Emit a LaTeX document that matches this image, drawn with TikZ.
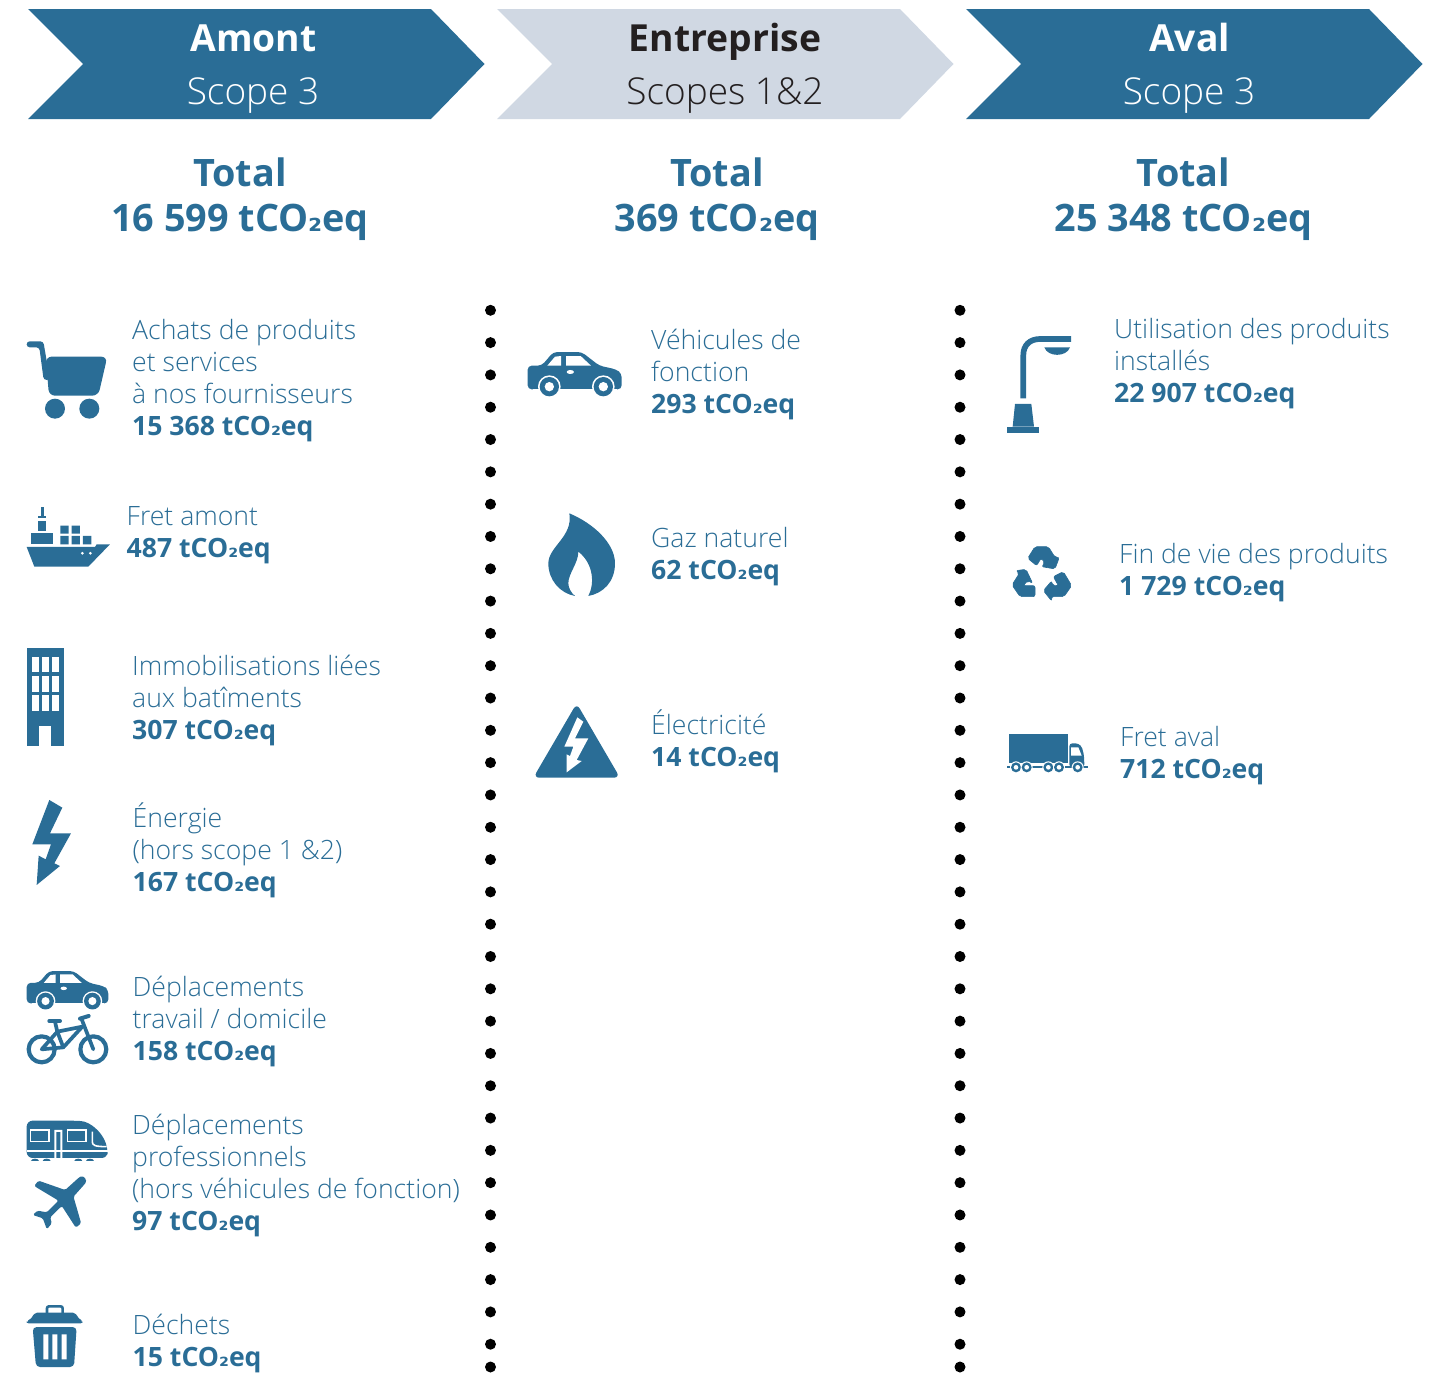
\documentclass[tikz,border=0pt]{standalone}
\usepackage{fontspec}
\setmainfont{Open Sans}
\newfontfamily\lightf{Open Sans Light}
\newfontfamily\boldf{Open Sans Bold}
\newfontfamily\subf{DejaVu Sans Bold}[Scale=0.85]
\definecolor{teal}{HTML}{2A6D96}
\definecolor{pale}{HTML}{D0D8E3}
\definecolor{ink}{HTML}{231F20}
\tikzset{
  zoomed/.style n args={3}{shift={(#1,#2)},x=#3pt,y=-#3pt},
  chev/.style={fill=teal,draw=none},
  icon/.style={fill=teal,draw=none},
  hole/.style={fill=white,draw=none},
  tube/.style={draw=teal,line cap=round,line join=round},
  blocktext/.style={anchor=base west,inner sep=0pt,align=left,text=teal,font=\lightf\fontsize{26.6}{32}\selectfont},
  headbold/.style={anchor=base,inner sep=0pt,font=\boldf\fontsize{37.3}{40}\selectfont},
  headlight/.style={anchor=base,inner sep=0pt,font=\lightf\fontsize{37}{40}\selectfont},
  totaltext/.style={anchor=base,inner sep=0pt,align=center,text=teal,font=\boldf\fontsize{37.8}{45}\selectfont},
  dotmark/.style={circle,fill=black,minimum size=11pt,inner sep=0pt},
}
\newcommand{\ctwo}{tCO{\subf ₂}eq}
\newcommand{\val}[1]{{\boldf #1 \ctwo}}
\newcommand{\caricon}[3]{%
\begin{scope}[zoomed={#1}{#2}{#3}]
\fill[icon,rounded corners=4pt] (53,178) -- (53,107) -- (95,107) -- (130,66) -- (215,66) -- (268,107) -- (318,118) -- (335,130) -- (335,178) -- cycle;
\fill[hole] (118,170) circle[radius=34] (280,170) circle[radius=34];
\fill[hole] (70,178) rectangle (320,200);
\fill[icon] (118,170) circle[radius=29] (280,170) circle[radius=29];
\fill[hole] (118,170) circle[radius=14] (280,170) circle[radius=14];
\fill[hole] (112,107) -- (135,80) -- (153,78) -- (153,107) -- cycle;
\fill[hole] (168,107) -- (168,78) -- (212,78) -- (243,107) -- cycle;
\fill[hole] (181,126) ellipse[x radius=11,y radius=6];
\end{scope}}
\begin{document}
\begin{tikzpicture}[x=1pt,y=-1pt]
\useasboundingbox (0,0) rectangle (1430,1373);
% chevrons
\fill[chev] (28,9) -- (431,9) -- (484.5,64) -- (431,119) -- (28,119) -- (83,64) -- cycle;
\fill[chev,fill=pale] (497,9) -- (900,9) -- (953.5,64) -- (900,119) -- (497,119) -- (552,64) -- cycle;
\fill[chev] (966,9) -- (1369,9) -- (1422.5,64) -- (1369,119) -- (966,119) -- (1021,64) -- cycle;
\node[headbold,text=white] (h1) at (253.5,51) {Amont};
\node[headlight,text=white] (s1) at (253,104) {Scope 3};
\node[headbold,text=ink] (h2) at (725,51) {Entreprise};
\node[headlight,text=ink] (s2) at (725,104) {Scopes 1\&2};
\node[headbold,text=white] (h3) at (1189.5,51) {Aval};
\node[headlight,text=white] (s3) at (1189,104) {Scope 3};
% totals
\node[totaltext] (t1) at (240,231) {Total\\16 599 \ctwo};
\node[totaltext] (t2) at (717,231) {Total\\369 \ctwo};
\node[totaltext] (t3) at (1183.5,231) {Total\\25 348 \ctwo};
% dots
\foreach \i in {0,...,32}{
  \node[dotmark] (dl\i) at (490.5,310.3+\i*32.31) {};
  \node[dotmark] (dr\i) at (960,310.3+\i*32.31) {};
}
\node[dotmark] (dlend) at (490.5,1367) {};
\node[dotmark] (drend) at (960,1367) {};
% left column texts
\node[blocktext] (a1) at (132,435.3) {Achats de produits\\et services\\à nos fournisseurs\\\val{15 368}};
\node[blocktext] (a2) at (126.5,557) {Fret amont\\\val{487}};
\node[blocktext] (a3) at (132,739) {Immobilisations liées\\aux batîments\\\val{307}};
\node[blocktext] (a4) at (132.5,891) {Énergie\\(hors scope 1 \&2)\\\val{167}};
\node[blocktext] (a5) at (132.5,1060) {Déplacements\\travail / domicile\\\val{158}};
\node[blocktext] (a6) at (132,1230) {Déplacements\\professionnels\\(hors véhicules de fonction)\\\val{97}};
\node[blocktext] (a7) at (132.5,1366) {Déchets\\\val{15}};
% middle
\node[blocktext] (b1) at (651,413) {Véhicules de\\fonction\\\val{293}};
\node[blocktext] (b2) at (651,579) {Gaz naturel\\\val{62}};
\node[blocktext] (b3) at (651,766) {Électricité\\\val{14}};
% right
\node[blocktext] (c1) at (1114,402) {Utilisation des produits\\installés\\\val{22 907}};
\node[blocktext] (c2) at (1119,595) {Fin de vie des produits\\\val{1 729}};
\node[blocktext] (c3) at (1120,778) {Fret aval\\\val{712}};
% cart
\begin{scope}[zoomed={0}{300}{0.3333}]
\fill[icon,rounded corners=3pt] (80,124) -- (130,124) -- (150,240) -- (131,240) -- (118,142) -- (80,142) -- cycle;
\fill[icon,rounded corners=6pt] (137,170) -- (322,170) -- (295,287) -- (147,287) -- cycle;
\fill[icon] (165,326) circle[radius=30] (268,326) circle[radius=30];
% ship
\fill[icon] (80,741) -- (285,741) -- (290,733) -- (330,733) -- (265,800) -- (103,800) -- cycle;
\fill[hole] (247,760) circle[radius=4.5] (271,760) circle[radius=4.5];
\fill[icon] (94,698) rectangle (160,733);
\fill[icon] (115,663) rectangle (139,692);
\fill[icon] (115,647) rectangle (139,655);
\fill[icon] (123,622) rectangle (131,650);
\fill[icon] (181,708) rectangle (206,733) (215,708) rectangle (240,733) (249,708) rectangle (274,733);
\fill[icon] (181,677) rectangle (206,701) (215,677) rectangle (240,701);
\end{scope}
% building and bolt
\begin{scope}[zoomed={0}{630}{0.3333}]
\fill[icon] (80,53) rectangle (192,347);
\foreach \xx in {97,127,157}\foreach \yy/\yz in {80/127,137/185,195/242}
  \fill[hole] (\xx,\yy) rectangle (\xx+20,\yz);
\fill[hole] (118,288) rectangle (152,347);
\fill[icon] (148,510) -- (187,533) -- (150,610) -- (213,610) -- (163,700) -- (180,708) -- (110,765) -- (116,677) -- (137,688) -- (153,643) -- (97,643) -- cycle;
\end{scope}
% commuter car and cars
\caricon{11.4}{951.9}{0.2893}
\caricon{510}{330}{0.3333}
% bike, train, plane
\begin{scope}[zoomed={0}{960}{0.3333}]
\draw[tube,line width=4.2pt] (125,268) circle[radius=39] (280,268) circle[radius=39];
\draw[tube,line width=3.7pt] (125,268) -- (190,262) -- (247,200) -- (172,215) -- (125,268);
\draw[tube,line width=3.7pt] (172,215) -- (190,262);
\draw[tube,line width=3.7pt] (165,185) -- (172,215);
\draw[tube,line width=4pt] (148,183) -- (180,183);
\draw[tube,line width=3.7pt] (244,175) -- (280,268);
\draw[tube,line width=4pt] (240,176) -- (266,168);
% train
\fill[icon,rounded corners=6pt] (80,482) -- (225,482) .. controls (270,485) and (305,515) .. (323,565) -- (323,594) -- (80,594) -- cycle;
\fill[hole] (80,569) rectangle (323,576);
\draw[white,line width=1.6pt] (92,510) rectangle (147,545);
\draw[white,line width=1.6pt] (203,510) rectangle (258,545);
\fill[hole] (163,510) rectangle (169,594) (181,510) rectangle (187,594) (163,510) rectangle (187,516);
\draw[white,line width=1.6pt] (277,515) -- (277,545) .. controls (277,555) and (282,560) .. (320,560);
\fill[icon] (93,603) arc[start angle=180,end angle=360,x radius=12,y radius=7] -- cycle;
\fill[icon] (128,603) arc[start angle=180,end angle=360,x radius=12,y radius=7] -- cycle;
\fill[icon] (223,603) arc[start angle=180,end angle=360,x radius=12,y radius=7] -- cycle;
\fill[icon] (258,603) arc[start angle=180,end angle=360,x radius=12,y radius=7] -- cycle;
% plane
\fill[icon,rounded corners=1.5pt,xshift=-1.5pt] (107,678) -- (120,662) -- (200,690) -- (242,652) .. controls (255,645) and (268,660) .. (258,673) -- (225,710) -- (248,790) -- (232,803) -- (190,738) -- (155,772) -- (160,790) -- (145,808) -- (133,775) -- (103,765) -- (117,752) -- (145,757) -- (180,722) -- cycle;
\end{scope}
% flame
\begin{scope}[zoomed={510}{330}{0.3333}]
\fill[icon] (178,550) .. controls (250,580) and (315,640) .. (315,700) .. controls (315,755) and (280,790) .. (235,798) .. controls (255,760) and (250,700) .. (205,665) .. controls (205,700) and (175,730) .. (175,760) .. controls (175,775) and (185,790) .. (195,798) .. controls (150,790) and (115,750) .. (115,700) .. controls (115,650) and (190,620) .. (178,550) -- cycle;
\end{scope}
% danger triangle
\begin{scope}[zoomed={520}{695}{0.3333}]
\fill[icon,rounded corners=6pt] (170,25) -- (300,248) -- (40,248) -- cycle;
\fill[hole] (172,67) -- (190,80) -- (165,130) -- (205,130) -- (170,195) -- (185,198) -- (140,232) -- (140,178) -- (150,183) -- (160,155) -- (133,155) -- cycle;
\end{scope}
% lamp and recycle
\begin{scope}[zoomed={990}{320}{0.3333}]
\draw[draw=teal,line width=5.7pt] (100,235) -- (100,105) .. controls (100,75) and (120,57) .. (150,57) -- (243,57);
\fill[icon] (163,82) -- (240,82) .. controls (230,112) and (173,112) .. (163,82) -- cycle;
\fill[icon] (75,252) -- (124,252) -- (132,320) -- (68,320) -- cycle;
\fill[icon] (52,320) rectangle (148,338);
\filldraw[fill=teal,draw=teal,line width=.6pt,rounded corners=2pt] (113,715) -- (135,680) -- (175,680) -- (195,712) -- (208,712) -- (195,747) -- (155,740) -- (165,728) -- (153,715) -- (140,737) -- cycle;
\filldraw[fill=teal,draw=teal,line width=.6pt,rounded corners=2pt] (78,752) -- (108,748) -- (128,790) -- (113,782) -- (100,797) -- (135,797) -- (135,830) -- (90,830) -- (66,795) -- (88,760) -- cycle;
\filldraw[fill=teal,draw=teal,line width=.6pt,rounded corners=2pt] (220,755) -- (245,797) -- (222,830) -- (185,830) -- (185,843) -- (160,812) -- (185,783) -- (188,797) -- (205,797) -- (190,770) -- cycle;
\end{scope}
% truck
\begin{scope}[zoomed={990}{720}{0.3333}]
\fill[icon] (57,42) rectangle (233,130);
\fill[icon,rounded corners=3pt] (238,142) -- (238,70) -- (265,70) .. controls (280,85) and (283,110) .. (283,142) -- cycle;
\fill[hole] (243,82) -- (265,82) -- (275,107) -- (243,107) -- cycle;
\fill[icon] (50,139) rectangle (293,145);
\foreach \xx in {78,110,175,207,263}{
  \fill[hole] (\xx,142) circle[radius=18];
  \fill[icon] (\xx,142) circle[radius=15];
  \fill[hole] (\xx,142) circle[radius=7];
}
\end{scope}
% trash
\begin{scope}[zoomed={0}{1290}{0.3333}]
\draw[draw=teal,line width=2.6pt,rounded corners=2pt] (141,70) -- (141,49) -- (188,49) -- (188,70);
\fill[icon,rounded corners=2pt] (105,68) -- (225,68) -- (240,90) -- (248,92) -- (248,100) -- (80,100) -- (80,92) -- (90,90) -- cycle;
\fill[icon,rounded corners=4pt] (98,111) -- (230,111) -- (222,231) -- (108,231) -- cycle;
\fill[hole] (130,133) rectangle (145,208) (157,133) rectangle (172,208) (185,133) rectangle (200,208);
\end{scope}
\end{tikzpicture}
\end{document}
